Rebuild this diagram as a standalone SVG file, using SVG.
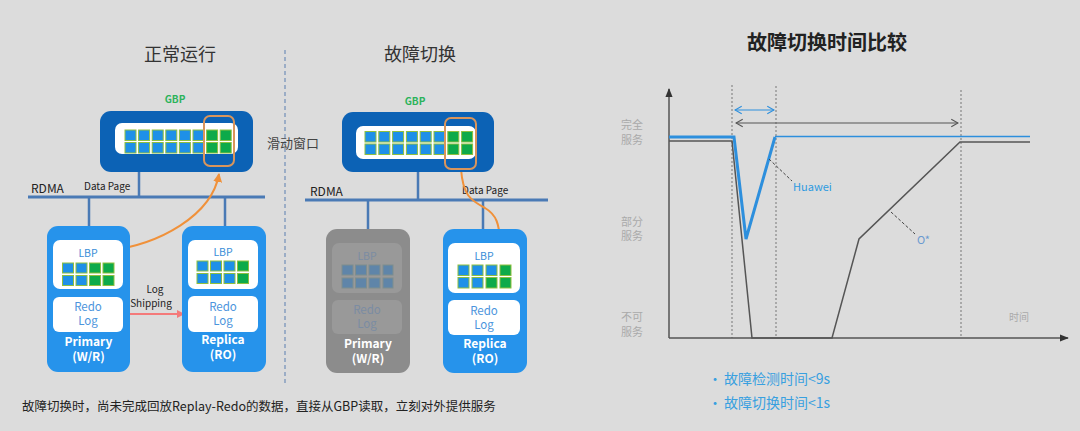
<svg xmlns="http://www.w3.org/2000/svg" width="1080" height="431" viewBox="0 0 1080 431">
<defs>
<style>
text{font-family:"Noto Sans CJK SC","Noto Sans",sans-serif}
.title{font-size:18px;fill:#333;text-anchor:middle}
.gbpl{font-size:10px;font-weight:bold;fill:#2bb35a;text-anchor:middle}
.gbp{fill:#0c62b5}
.white{fill:#ffffff}
.b{fill:#1e90e8;stroke:#8fbf3f;stroke-width:1}
.g{fill:#0daa4a;stroke:#8fbf3f;stroke-width:1}
.gb{fill:#5f85a9;stroke:#7e8e8e;stroke-width:1}
.win{fill:none;stroke:#d9955c;stroke-width:2}
.node{fill:#2693eb}
.dead{fill:#8c8c8c}
.deadin{fill:#999999}
.lbl{font-size:10.5px;fill:#3b8ed8;text-anchor:middle}
.redo{font-size:11.5px;fill:#4b94dc;text-anchor:middle}
.dlbl{fill:#7b8ca3}
.nm{font-size:12px;font-weight:bold;fill:#ffffff;text-anchor:middle}
.sm{font-size:10px;fill:#222}
.bus{stroke:#4a7ab5;stroke-width:3;fill:none}
.stem{stroke:#4a7ab5;stroke-width:2.5;fill:none}
.orange{stroke:#f0913a;stroke-width:2;fill:none}
.axis{stroke:#555;stroke-width:1.5;fill:none}
.gl{stroke:#555;stroke-width:1.5;fill:none}
.dot{stroke:#777;stroke-width:1;stroke-dasharray:2,2;fill:none}
.ylab{font-size:11px;fill:#aaa}
.bul{font-size:14px;fill:#38a0e0}
</style>
<marker id="ao" viewBox="0 0 10 10" refX="9" refY="5" markerWidth="4.5" markerHeight="4.5" orient="auto"><path d="M0,0L10,5L0,10z" fill="#f0913a"/></marker>
<marker id="ap" viewBox="0 0 10 10" refX="9" refY="5" markerWidth="4" markerHeight="4" orient="auto"><path d="M0,0L10,5L0,10z" fill="#f47a7a"/></marker>
<marker id="ax" viewBox="0 0 10 10" refX="9" refY="5" markerWidth="6" markerHeight="6" orient="auto"><path d="M0,1L10,5L0,9z" fill="#333"/></marker>
<marker id="cb" viewBox="0 0 10 10" refX="9" refY="5" markerWidth="8" markerHeight="8" orient="auto-start-reverse"><path d="M2,1L9,5L2,9" fill="none" stroke="#2d8fdd" stroke-width="1.2"/></marker>
<marker id="cg" viewBox="0 0 10 10" refX="9" refY="5" markerWidth="8" markerHeight="8" orient="auto-start-reverse"><path d="M2,1L9,5L2,9" fill="none" stroke="#555" stroke-width="1.2"/></marker>
</defs>
<rect x="0" y="0" width="1080" height="431" fill="#dcdcdc"/>

<!-- titles -->
<text class="title" x="180" y="61">正常运行</text>
<text class="title" x="420" y="61">故障切换</text>
<line x1="285" y1="50" x2="285" y2="385" stroke="#5a7fb0" stroke-width="1" stroke-dasharray="4,3"/>
<text x="267" y="148" font-size="13px" fill="#444">滑动窗口</text>
<text x="31" y="193" font-size="12px" fill="#222">RDMA</text>
<text x="310" y="196" font-size="12px" fill="#222">RDMA</text>
<text class="sm" x="84" y="190" font-size="9px">Data Page</text>
<text class="sm" x="462" y="194" font-size="9px">Data Page</text>

<!-- connectors -->
<g id="connectors">
<line class="bus" x1="28" y1="197" x2="265" y2="197"/>
<line class="stem" x1="139" y1="172" x2="139" y2="197"/>
<line class="stem" x1="89" y1="197" x2="89" y2="226"/>
<line class="stem" x1="225" y1="197" x2="225" y2="226"/>
<line class="bus" x1="305" y1="200" x2="548" y2="200"/>
<line class="stem" x1="418" y1="172" x2="418" y2="200"/>
<line class="stem" x1="368" y1="200" x2="368" y2="229"/>
<line class="stem" x1="483" y1="200" x2="483" y2="229"/>
<path class="orange" d="M106,251 C160,245 212,215 219,174" marker-end="url(#ao)"/>
<path class="orange" d="M461,169 C463,195 470,200 485,208 C497,215 499,225 500,240" marker-end="url(#ao)"/>
<line x1="123" y1="314" x2="184" y2="314" stroke="#f47a7a" stroke-width="2" marker-end="url(#ap)"/>
<text class="sm" x="155" y="293" text-anchor="middle">Log</text>
<text class="sm" x="151" y="307" text-anchor="middle">Shipping</text>
</g>

<!-- left GBP -->
<g id="gbp-normal">
<text class="gbpl" x="175" y="103">GBP</text>
<rect class="gbp" x="100" y="111" width="153" height="61" rx="11"/>
<rect class="white" x="115" y="123" width="123" height="31" rx="7"/>
<rect class="b" x="125" y="130" width="11" height="10.5"/><rect class="b" x="138.6" y="130" width="11" height="10.5"/><rect class="b" x="152.2" y="130" width="11" height="10.5"/><rect class="b" x="165.8" y="130" width="11" height="10.5"/><rect class="b" x="179.4" y="130" width="11" height="10.5"/><rect class="b" x="193" y="130" width="11" height="10.5"/><rect class="g" x="206.6" y="130" width="11" height="10.5"/><rect class="g" x="220.2" y="130" width="11" height="10.5"/>
<rect class="b" x="125" y="142.5" width="11" height="10.5"/><rect class="b" x="138.6" y="142.5" width="11" height="10.5"/><rect class="b" x="152.2" y="142.5" width="11" height="10.5"/><rect class="b" x="165.8" y="142.5" width="11" height="10.5"/><rect class="b" x="179.4" y="142.5" width="11" height="10.5"/><rect class="b" x="193" y="142.5" width="11" height="10.5"/><rect class="g" x="206.6" y="142.5" width="11" height="10.5"/><rect class="g" x="220.2" y="142.5" width="11" height="10.5"/>
<rect class="win" x="204" y="116" width="30" height="50" rx="6"/>
</g>

<!-- left primary -->
<g id="primary-normal">
<rect class="node" x="47" y="226" width="83" height="146" rx="11"/>
<rect class="white" x="53" y="240" width="70" height="49" rx="7"/>
<text class="lbl" x="88" y="257">LBP</text>
<rect class="b" x="62.5" y="263" width="11" height="10"/><rect class="b" x="76" y="263" width="11" height="10"/><rect class="g" x="89.5" y="263" width="11" height="10"/><rect class="g" x="103" y="263" width="11" height="10"/>
<rect class="b" x="62.5" y="275.5" width="11" height="10"/><rect class="b" x="76" y="275.5" width="11" height="10"/><rect class="g" x="89.5" y="275.5" width="11" height="10"/><rect class="g" x="103" y="275.5" width="11" height="10"/>
<rect class="white" x="53" y="297" width="70" height="35" rx="6"/>
<text class="redo" x="88" y="311">Redo</text>
<text class="redo" x="88" y="325">Log</text>
<text class="nm" x="88.5" y="346">Primary</text>
<text class="nm" x="88.5" y="361">(W/R)</text>
</g>

<!-- left replica -->
<g id="replica-normal">
<rect class="node" x="182" y="226" width="84" height="146" rx="11"/>
<rect class="white" x="188" y="240" width="70" height="49" rx="7"/>
<text class="lbl" x="223" y="256">LBP</text>
<rect class="b" x="197" y="261" width="11" height="10"/><rect class="b" x="210.5" y="261" width="11" height="10"/><rect class="b" x="224" y="261" width="11" height="10"/><rect class="g" x="237.5" y="261" width="11" height="10"/>
<rect class="b" x="197" y="273.5" width="11" height="10"/><rect class="b" x="210.5" y="273.5" width="11" height="10"/><rect class="b" x="224" y="273.5" width="11" height="10"/><rect class="g" x="237.5" y="273.5" width="11" height="10"/>
<rect class="white" x="188" y="296" width="70" height="36" rx="6"/>
<text class="redo" x="223" y="311">Redo</text>
<text class="redo" x="223" y="325">Log</text>
<text class="nm" x="223" y="344">Replica</text>
<text class="nm" x="223" y="359">(RO)</text>
</g>

<!-- middle GBP -->
<g id="gbp-failover">
<text class="gbpl" x="415" y="105">GBP</text>
<rect class="gbp" x="342" y="112" width="152" height="60" rx="11"/>
<rect class="white" x="356" y="126" width="120" height="33" rx="7"/>
<rect class="b" x="365" y="131.5" width="11" height="10.5"/><rect class="b" x="378.8" y="131.5" width="11" height="10.5"/><rect class="b" x="392.6" y="131.5" width="11" height="10.5"/><rect class="b" x="406.4" y="131.5" width="11" height="10.5"/><rect class="b" x="420.2" y="131.5" width="11" height="10.5"/><rect class="b" x="434" y="131.5" width="11" height="10.5"/><rect class="g" x="447.8" y="131.5" width="11" height="10.5"/><rect class="g" x="461.6" y="131.5" width="11" height="10.5"/>
<rect class="b" x="365" y="144" width="11" height="10.5"/><rect class="b" x="378.8" y="144" width="11" height="10.5"/><rect class="b" x="392.6" y="144" width="11" height="10.5"/><rect class="b" x="406.4" y="144" width="11" height="10.5"/><rect class="b" x="420.2" y="144" width="11" height="10.5"/><rect class="b" x="434" y="144" width="11" height="10.5"/><rect class="g" x="447.8" y="144" width="11" height="10.5"/><rect class="g" x="461.6" y="144" width="11" height="10.5"/>
<rect class="win" x="445" y="118" width="31" height="51" rx="6"/>
</g>

<!-- middle failed primary -->
<g id="primary-failed">
<rect class="dead" x="326" y="229" width="84" height="144" rx="11"/>
<rect class="deadin" x="332" y="243" width="70" height="50" rx="7"/>
<text class="lbl dlbl" x="367" y="260">LBP</text>
<rect class="gb" x="342" y="265" width="11" height="10"/><rect class="gb" x="355.5" y="265" width="11" height="10"/><rect class="gb" x="369" y="265" width="11" height="10"/><rect class="gb" x="383" y="265" width="10" height="10"/>
<rect class="gb" x="342" y="278" width="11" height="10"/><rect class="gb" x="355.5" y="278" width="11" height="10"/><rect class="gb" x="369" y="278" width="11" height="10"/><rect class="gb" x="383" y="278" width="10" height="10"/>
<rect class="deadin" x="332" y="300" width="70" height="34" rx="6"/>
<text class="redo dlbl" x="367" y="314">Redo</text>
<text class="redo dlbl" x="367" y="328">Log</text>
<text class="nm" x="368" y="348">Primary</text>
<text class="nm" x="368" y="363">(W/R)</text>
</g>

<!-- middle replica -->
<g id="replica-failover">
<rect class="node" x="443" y="229" width="84" height="144" rx="11"/>
<rect class="white" x="448" y="243" width="72" height="50" rx="7"/>
<text class="lbl" x="484" y="260">LBP</text>
<rect class="b" x="458" y="265" width="11" height="10.5"/><rect class="b" x="472" y="265" width="11" height="10.5"/><rect class="b" x="486" y="265" width="11" height="10.5"/><rect class="g" x="500" y="265" width="11" height="10.5"/>
<rect class="b" x="458" y="277.5" width="11" height="10.5"/><rect class="b" x="472" y="277.5" width="11" height="10.5"/><rect class="g" x="486" y="277.5" width="11" height="10.5"/><rect class="g" x="500" y="277.5" width="11" height="10.5"/>
<rect class="white" x="448" y="300" width="72" height="35" rx="6"/>
<text class="redo" x="484" y="315">Redo</text>
<text class="redo" x="484" y="329">Log</text>
<text class="nm" x="485" y="348">Replica</text>
<text class="nm" x="485" y="363">(RO)</text>
</g>

<text x="22" y="411" font-size="12.5px" fill="#222">故障切换时，尚未完成回放Replay-Redo的数据，直接从GBP读取，立刻对外提供服务</text>

<!-- right chart -->
<text x="827" y="50" font-size="20px" font-weight="bold" fill="#222" text-anchor="middle">故障切换时间比较</text>
<text class="ylab" x="621" y="129">完全</text><text class="ylab" x="621" y="144">服务</text>
<text class="ylab" x="621" y="226">部分</text><text class="ylab" x="621" y="240">服务</text>
<text class="ylab" x="621" y="321">不可</text><text class="ylab" x="621" y="336">服务</text>
<text x="1009" y="321" font-size="10px" fill="#aaa">时间</text>
<line class="dot" x1="732" y1="85" x2="732" y2="338"/>
<line class="dot" x1="776" y1="86" x2="776" y2="338"/>
<line class="dot" x1="961" y1="90" x2="961" y2="338"/>
<line class="axis" x1="669" y1="338" x2="669" y2="89" marker-end="url(#ax)"/>
<line class="axis" x1="669" y1="338" x2="1068" y2="338" marker-end="url(#ax)"/>
<line x1="735" y1="110" x2="774" y2="110" stroke="#2d8fdd" stroke-width="1.2" marker-start="url(#cb)" marker-end="url(#cb)"/>
<line x1="736" y1="123" x2="958" y2="123" stroke="#555" stroke-width="1.2" marker-start="url(#cg)" marker-end="url(#cg)"/>
<polyline class="gl" points="669,141 732,141 752,338 832,338 859,239 960,142 1030,142"/>
<polyline points="669,137 734,137 746,239 775,137" fill="none" stroke="#2d8fdd" stroke-width="3" stroke-linejoin="miter"/>
<line x1="775" y1="136.5" x2="1030" y2="136.5" stroke="#2d8fdd" stroke-width="1.5"/>
<line x1="769" y1="159" x2="792" y2="181" stroke="#444" stroke-width="1" stroke-dasharray="3,2"/>
<text x="793" y="191" font-size="11px" fill="#2d9ae0">Huawei</text>
<line x1="891" y1="212" x2="915" y2="234" stroke="#444" stroke-width="1" stroke-dasharray="3,2"/>
<text x="917" y="244" font-size="11px" fill="#6a9ad0">O*</text>
<text class="bul" x="708" y="384">•</text><text class="bul" x="724" y="384">故障检测时间&lt;9s</text>
<text class="bul" x="708" y="408">•</text><text class="bul" x="724" y="408">故障切换时间&lt;1s</text>
</svg>
